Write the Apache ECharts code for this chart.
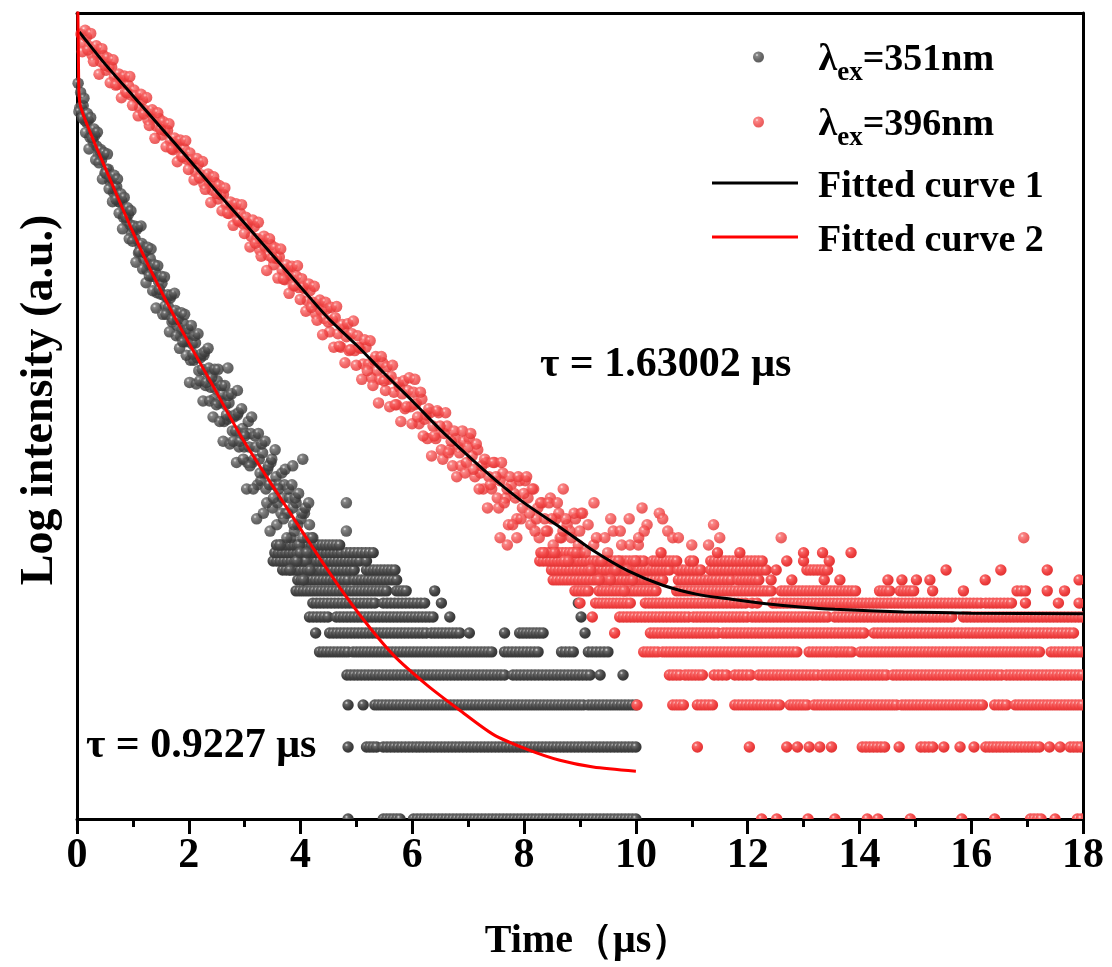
<!DOCTYPE html>
<html><head><meta charset="utf-8">
<script src="https://cdn.jsdelivr.net/npm/echarts@6/dist/echarts.min.js"></script>
<style>html,body{margin:0;padding:0;background:#fff}#c{width:1112px;height:967px}</style>
</head><body><div id="c"></div>
<script>
// ---------------- data ----------------
const xTicks = [0, 2, 4, 6, 8, 10, 12, 14, 16, 18];
const nameBlack = 'λex=351nm';
const nameRed = 'λex=396nm';
const nameFit1 = 'Fitted curve 1';
const nameFit2 = 'Fitted curve 2';

// black decay (351 nm), continuous part: channel start / step (µs) and counts
const blackBandStart = 0.02, blackBandStep = 0.03;
const blackBand = [1194,944,940,962,835,821,834,710,754,678,
722,653,598,622,571,602,502,522,522,465,
477,418,430,441,383,379,386,329,350,317,
338,306,281,296,268,293,233,250,255,221,
233,198,209,221,186,186,194,159,177,157,
174,155,140,152,138,151,120,131,134,116,
123,105,111,118,99,100,107,83,97,83,
98,85,75,85,76,87,65,74,77,64,
71,57,63,68,55,56,60,46,54,47,
55,48,42,48,42,49,36,41,43,36,
41,31,36,41,31,32,36,25,32,26,
34,28,24,29,25,31,20,25,27,21,
25,19,22,25,19,19,22,15,20,16,
21,17,14,18,15,19,12,15,17,13,
15];
const blackBandBStart = 0.035, blackBandBStep = 0.03;
const blackBandB = [909,1094,855,1035,743,892,635,858,705,769,
571,746,555,631,475,613,502,604,432,483,
382,492,391,475,342,412,294,398,329,360,
267,350,261,302,213,299,236,302,200,234,
175,246,187,242,162,208,137,206,164,186,
129,185,129,156,109,155,123,158,105,123,
93,131,99,129,87,112,67,116,88,105,
66,107,68,88,56,90,67,93,56,70,
48,76,54,76,46,65,38,65,49,59,
37,60,38,49,31,50,38,52,32,40,
24,46,30,48,24,40,18,41,28,37,
19,38,21,30,16,32,22,35,17,24,
14,28,18,29,15,24,11,25,17,22,
12,23,13,19,10,20,13,21,11,15];
const blackOutliers = [[2.70,77],[2.87,62],[3.86,30],[4.04,32],[4.82,21],[4.82,16]];
// quantised low-count rows: [count level, t start, t end]
const blackRows = [
[1,4.85,4.85],[1,5.48,5.78],[1,6.02,10.0],
[2,4.85,4.85],[2,5.18,5.36],[2,5.48,6.07],[2,6.13,10.0],
[3,4.85,4.85],[3,5.12,5.12],[3,5.33,9.06],[3,9.15,10.0],
[4,4.83,7.65],[4,7.80,9.18],[4,9.36,9.36],[4,9.77,9.77],
[5,4.34,4.85],[5,4.94,7.42],[5,7.65,8.25],[5,8.67,8.88],[5,9.15,9.50],
[6,4.27,4.27],[6,4.52,6.25],[6,6.34,6.85],[6,7.02,7.02],[6,7.65,7.65],[6,7.92,8.34],[6,9.09,9.09],
[7,4.16,4.49],[7,4.64,6.37],[7,6.67,6.67],[7,9.02,9.02],
[8,4.22,5.33],[8,5.48,6.22],[8,6.52,6.52],[8,8.97,8.97],
[9,3.92,5.54],[9,5.72,5.89],[9,6.40,6.40],
[10,3.95,4.85],[10,4.96,5.72],
[11,3.68,4.25],[11,4.31,4.96],[11,5.18,5.69],
[12,3.51,5.06],[12,5.18,5.18],
[13,3.54,4.73],[13,4.82,5.30],
[14,3.57,4.70]
];

// red decay (396 nm)
const redBandStart = 0.07, redBandStep = 0.05;
const redBand = [1919,1759,1866,1702,1569,1667,1562,1473,1562,1354,1400,1395,1271,1180,1254,1191,1099,1168,1064,1119,
1038,945,1015,918,840,904,843,791,850,726,757,758,684,630,680,644,589,634,573,610,
560,510,548,495,453,488,455,427,459,392,408,409,369,341,367,348,318,342,309,329,
305,273,300,267,240,266,246,228,252,208,221,224,198,180,200,188,170,187,167,182,
165,147,162,145,130,144,133,124,136,109,122,125,107,94,112,104,91,107,91,105,
93,80,94,80,70,83,75,69,81,62,69,71,61,54,64,60,52,62,53,61,
55,45,57,47,39,50,44,39,50,35,41,44,35,30,39,36,30,38,31,39,
33,27,35,28,24,31,27,24,31,22,26,28,22,17,25,23,18,26,20,26,
22,17,24,18,15,21,18,16,22,14,18,19,15,12,17,16,13,18,14,19];
const redBandBStart = 0.095, redBandBStep = 0.05;
const redBandB = [1618,1989,1646,1931,1475,1714,1303,1667,1421,1528,1201,1497,1174,1307,1039,1280,1088,1274,966,1058,
873,1074,888,1042,796,925,703,899,767,825,648,808,634,705,561,691,588,687,521,571,
471,579,480,562,430,499,379,485,413,446,350,436,342,381,304,374,317,371,281,308,
247,320,256,313,226,274,197,267,222,245,183,242,181,208,158,205,170,206,149,168,
133,173,138,169,122,148,106,145,120,138,94,139,95,117,81,118,92,121,79,94,
69,101,75,100,65,86,55,86,68,78,53,79,54,67,46,68,53,70,45,54];
const redBand2Start = 6.045, redBand2Step = 0.05;
const redBand2 = [69,48,61,40,49,52,33,40,51,44,32,50,34,38,42,27,34,42,28,36,
41,29,37,24,30,32,20,25,31,27,20,31,21,24,27,17,22,27,18,23,
27,19,24,16,20,21,13,16,21,18,13,21,15,16,18,12,15,19,13,16,
19,13,17,11,14,15,10,12,15,13,10,16,11,12,14,9,11,14,10,12,
14];
const redOutliers = [[8.70,24],[9.25,21],[9.55,18],[9.72,16],[9.88,18],[10.11,20],[10.2,17],[10.42,19],[10.48,18],
[10.57,16],[10.66,15],[10.76,15],[11.39,17],[12.60,15],[16.94,15],[10.05,15],[10.15,16],[7.57,15],[7.7,14],[7.87,15],
[11.0,14],[11.3,14],[11.5,15]];
const redRows = [
[1,12.25,12.25],[1,12.52,12.52],[1,13.08,13.08],[1,13.56,13.56],[1,14.14,14.14],[1,14.33,14.33],[1,14.91,14.91],[1,15.83,15.83],[1,16.42,16.42],[1,17.06,17.25],[1,17.50,17.50],[1,17.90,17.97],
[2,11.10,11.10],[2,12.03,12.03],[2,12.70,12.70],[2,12.89,12.89],[2,13.10,13.10],[2,13.29,13.29],[2,13.50,13.50],[2,14.05,14.45],[2,14.71,14.71],[2,15.10,15.31],[2,15.51,15.51],[2,15.80,15.80],[2,16.05,16.05],[2,16.26,17.22],[2,17.40,17.40],[2,17.59,17.59],[2,17.77,17.96],
[3,10.02,10.02],[3,10.66,10.85],[3,11.10,11.37],[3,11.77,12.57],[3,12.76,13.06],[3,13.19,14.66],[3,14.76,16.20],[3,16.42,16.63],[3,16.79,17.99],
[4,10.60,10.79],[4,10.88,11.19],[4,11.40,11.62],[4,11.77,12.05],[4,12.20,13.25],[4,13.34,14.48],[4,14.60,16.54],[4,16.63,17.99],
[5,10.14,10.39],[5,10.48,12.88],[5,13.10,13.56],[5,13.61,13.86],[5,14.02,17.22],[5,17.43,17.96],
[6,9.62,9.62],[6,10.26,11.46],[6,11.56,12.20],[6,12.26,14.08],[6,14.26,15.83],[6,15.90,16.97],[6,17.03,17.83],
[7,9.22,9.22],[7,9.71,10.94],[7,11.03,11.99],[7,12.08,13.43],[7,13.56,15.65],[7,15.86,17.99],
[8,9.0,9.0],[8,9.28,9.90],[8,10.17,11.37],[8,11.43,11.96],[8,12.08,12.17],[8,12.45,16.17],[8,16.26,16.72],[8,16.97,16.97],[8,17.56,17.56],[8,17.93,17.93],
[9,8.91,9.15],[9,9.34,10.36],[9,10.73,12.42],[9,12.60,13.93],[9,14.36,14.54],[9,14.73,14.97],[9,15.31,15.31],[9,15.86,15.86],[9,16.82,16.97],[9,17.36,17.36],[9,17.67,17.67],
[10,8.52,10.48],[10,10.76,11.37],[10,11.43,11.71],[10,11.83,12.20],[10,12.42,12.42],[10,12.79,12.79],[10,13.37,13.37],[10,13.65,13.65],[10,14.51,14.51],[10,14.76,14.76],[10,15.02,15.02],[10,15.26,15.26],[10,16.25,16.25],[10,17.93,17.93],
[11,8.49,9.93],[11,10.05,10.60],[11,10.76,11.16],[11,11.34,12.33],[11,12.51,12.51],[11,13.06,13.43],[11,15.55,15.55],[11,16.53,16.53],[11,17.36,17.36],
[12,8.28,10.14],[12,10.30,10.73],[12,10.97,11.03],[12,11.34,12.26],[12,12.70,12.70],[12,13.0,13.0],[12,13.46,13.46],
[13,8.30,9.00],[13,10.45,10.45],[13,11.46,11.46],[13,11.86,11.86],[13,13.00,13.00],[13,13.34,13.34],[13,13.85,13.85]
];

// fitted curves: [t (µs), intensity]
const fit1 = [[0.04,1960],[0.5,1440],[1,1060],[1.5,780],[2,575],[2.5,420],[3,310],[3.5,228],[4,168],[4.5,124],[5,96],[5.5,73],[6,56],[6.5,42.5],[7,33],[7.5,26],[8,21],[8.63,16.7],[9.25,13.2],[9.86,10.9],[10.48,9.5],[11.1,8.7],[11.71,8.3],[12.33,7.95],[12.94,7.7],[13.56,7.53],[14.79,7.35],[16.0,7.26],[18,7.21]];
const fit2 = [[0,6000],[0.03,1236],[0.063,956],[0.569,488],[1.167,234],[1.764,123.5],[2.36,69.5],[2.958,39],[3.506,24.6],[4.462,11.2],[5.058,7.15],[5.654,4.87],[6.252,3.65],[6.849,2.85],[7.445,2.26],[8.043,1.96],[8.639,1.76],[9.235,1.65],[10.0,1.585]];

const yMin = 1, yMax = 2350;
const tau1Text = 'τ = 1.63002 μs';
const tau2Text = 'τ = 0.9227 μs';

// ---------------- styling / building ----------------
const FONT = "'Liberation Serif','Times New Roman',Times,serif";
const BLACK_STOPS = [{offset:0,color:'#e6e6e6'},{offset:0.22,color:'#6a6a6a'},{offset:0.65,color:'#434343'},{offset:1,color:'#363636'}];
const RED_STOPS = [{offset:0,color:'#ffe6e6'},{offset:0.22,color:'#f86a6a'},{offset:0.65,color:'#f04242'},{offset:1,color:'#e23434'}];
function sphere(stops){ return new echarts.graphic.RadialGradient(0.36,0.32,0.66, stops); }
function band(start, step, vals){ return vals.map((v,i)=>[+(start+i*step).toFixed(3), v]); }
function rowsData(rows){ return rows.map(r=>[r[1], r[0], r[2]]); }
function rowsRender(stops){
  return function(params, api){
    const a = api.coord([api.value(0), api.value(1)]);
    const b = api.coord([api.value(2), api.value(1)]);
    const gap = 3.6, r = 5.7;
    const n = Math.max(1, Math.round((b[0]-a[0])/gap) + 1);
    const kids = [];
    for (let k=0;k<n;k++){
      const x = n===1 ? a[0] : a[0] + (b[0]-a[0])*k/(n-1);
      kids.push({type:'circle', shape:{cx:x, cy:a[1], r:r}, style:{fill: sphere(stops)}});
    }
    return {type:'group', children:kids};
  };
}
const axisLineStyle = {color:'#000', width:3};
const LF = 38;
const legendRich = {
  m:{fontSize:LF,fontWeight:'bold',fontFamily:FONT,color:'#000',lineHeight:38,verticalAlign:'top',padding:[3,0,0,12]},
  l:{fontSize:LF,fontWeight:'bold',fontFamily:FONT,color:'#000',lineHeight:38,verticalAlign:'top',padding:[3,0,0,0]},
  s:{fontSize:27,fontWeight:'bold',fontFamily:FONT,color:'#000',lineHeight:26,verticalAlign:'top',padding:[22,0,0,0]},
  f:{fontSize:LF,fontWeight:'bold',fontFamily:FONT,color:'#000',lineHeight:38,verticalAlign:'top',padding:[4,0,0,15]}
};
function legendAt(name, left, top, icon, itemHeight){
  return {
    data:[{name:name, icon:icon}],
    left:left, top:top, orient:'vertical', padding:0,
    itemWidth:86, itemHeight:itemHeight, selectedMode:false,
    formatter: function(n){
      if (n.indexOf('λex') === 0) return '{m|λ}{s|ex}{l|' + n.slice(3) + '}';
      return '{f|' + n + '}';
    },
    textStyle:{rich:legendRich}
  };
}
const nameFont = {fontWeight:'bold', fontFamily:FONT, color:'#000'};

const chart = echarts.init(document.getElementById('c'), null, {renderer:'canvas'});
chart.setOption({
  animation:false,
  backgroundColor:'#fff',
  grid:{left:77, right:29, top:13, bottom:145, containLabel:false},
  legend:[
    legendAt(nameBlack, 753, 38, 'circle', 11),
    legendAt(nameRed, 753, 103, 'circle', 11),
    legendAt(nameFit1, 712, 164, 'rect', 3),
    legendAt(nameFit2, 712, 218, 'rect', 3)
  ],
  xAxis:[{
    type:'value', min:xTicks[0], max:xTicks[xTicks.length-1], interval:2,
    axisLine:{show:true, onZero:false, lineStyle:axisLineStyle},
    axisTick:{show:true, inside:false, length:15, lineStyle:axisLineStyle},
    minorTick:{show:true, splitNumber:2, length:8, lineStyle:axisLineStyle},
    splitLine:{show:false},
    axisLabel:{fontSize:42, fontWeight:'bold', fontFamily:FONT, color:'#000', margin:16},
    name:'Time（μs）', nameLocation:'middle', nameGap:103,
    nameTextStyle:Object.assign({fontSize:40, padding:[0,0,0,16]}, nameFont)
  },{
    type:'value', position:'top', min:0, max:18,
    axisLine:{show:true, onZero:false, lineStyle:axisLineStyle},
    axisTick:{show:false}, axisLabel:{show:false}, splitLine:{show:false}
  }],
  yAxis:[{
    type:'log', logBase:10, min:yMin, max:yMax,
    axisLine:{show:true, onZero:false, lineStyle:axisLineStyle},
    axisTick:{show:false}, axisLabel:{show:false}, splitLine:{show:false}, minorTick:{show:false},
    name:'Log intensity (a.u.)', nameLocation:'middle', nameGap:14, nameRotate:90,
    nameTextStyle:Object.assign({fontSize:46, padding:[0,0,0,32]}, nameFont)
  },{
    type:'log', logBase:10, min:yMin, max:yMax, position:'right',
    axisLine:{show:true, onZero:false, lineStyle:axisLineStyle},
    axisTick:{show:false}, axisLabel:{show:false}, splitLine:{show:false}
  }],
  graphic:[
    {type:'text', x:540, y:365, z:10, style:{text:tau1Text, fontSize:42, fontWeight:'bold', fontFamily:FONT, fill:'#000', verticalAlign:'middle', align:'left'}},
    {type:'text', x:86, y:746, z:10, style:{text:tau2Text, fontSize:42, fontWeight:'bold', fontFamily:FONT, fill:'#000', verticalAlign:'middle', align:'left'}}
  ],
  series:[
    {name:nameBlack, type:'scatter', symbol:'circle', symbolSize:11.5, z:2,
     itemStyle:{color:sphere(BLACK_STOPS)},
     data: band(blackBandStart, blackBandStep, blackBand).concat(band(blackBandBStart, blackBandBStep, blackBandB)).concat(blackOutliers)},
    {name:nameBlack, type:'custom', coordinateSystem:'cartesian2d', clip:true, z:2,
     encode:{x:[0,2], y:1}, renderItem: rowsRender(BLACK_STOPS), data: rowsData(blackRows)},
    {name:nameRed, type:'scatter', symbol:'circle', symbolSize:11.5, z:3,
     itemStyle:{color:sphere(RED_STOPS)},
     data: band(redBandStart, redBandStep, redBand).concat(band(redBandBStart, redBandBStep, redBandB)).concat(band(redBand2Start, redBand2Step, redBand2)).concat(redOutliers)},
    {name:nameRed, type:'custom', coordinateSystem:'cartesian2d', clip:true, z:3,
     encode:{x:[0,2], y:1}, renderItem: rowsRender(RED_STOPS), data: rowsData(redRows)},
    {name:nameFit1, type:'line', data:fit1, smooth:0.25, showSymbol:false, symbol:'none', z:5,
     lineStyle:{color:'#000', width:3}, itemStyle:{color:'#000'}},
    {name:nameFit2, type:'line', data:fit2, smooth:0.25, showSymbol:false, symbol:'none', z:5,
     lineStyle:{color:'#ff0000', width:3}, itemStyle:{color:'#ff0000'}}
  ]
});
</script>
</body></html>
